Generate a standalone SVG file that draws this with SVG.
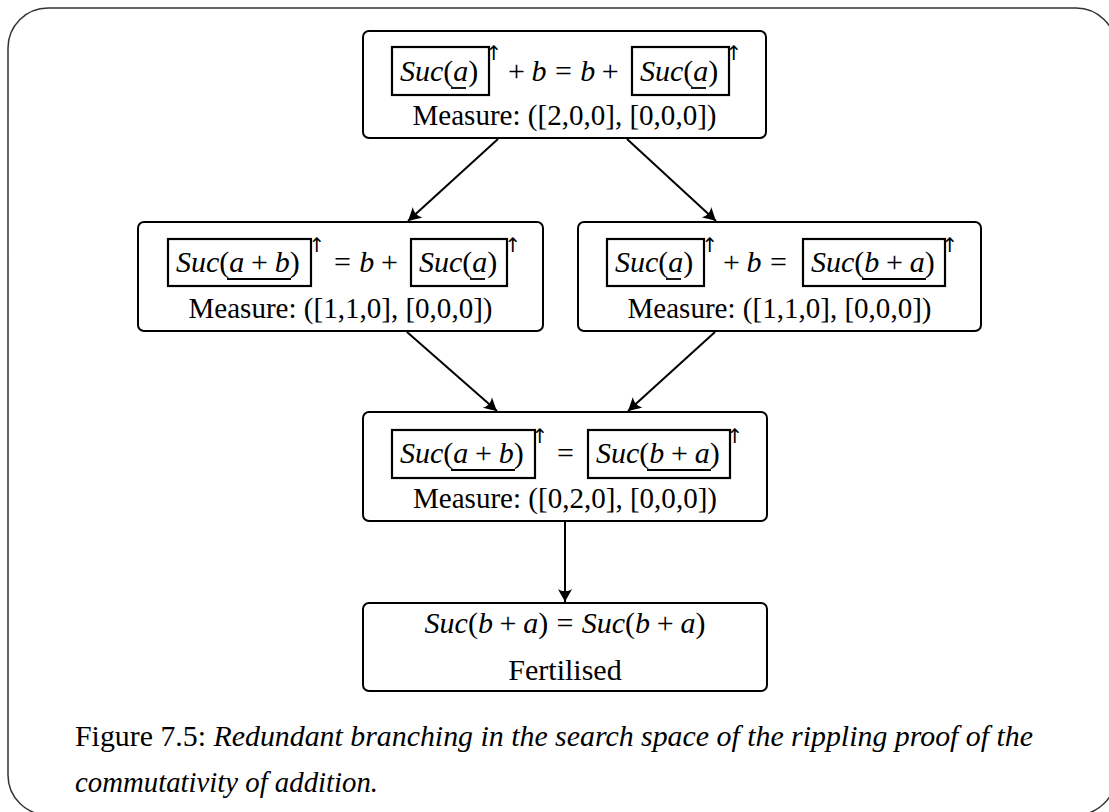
<svg xmlns="http://www.w3.org/2000/svg" width="1109" height="812" viewBox="0 0 1109 812">
  <style>
    .frame { fill: none; stroke: #333; stroke-width: 1.5; }
    .node rect.outer { fill: #fff; stroke: #000; stroke-width: 2; }
    .wave { fill: none; stroke: #000; stroke-width: 2.2; }
    .ul { stroke: #000; stroke-width: 1.8; }
    .m { font-family: "Liberation Serif", "Times New Roman", serif; font-size: 30px; fill: #000; }
    .t { font-family: "Liberation Serif", "Times New Roman", serif; font-size: 29px; fill: #000; }
    .up { font-family: "DejaVu Sans", sans-serif; font-size: 20px; fill: #000; text-anchor: middle; }
    .i { font-style: italic; }
    .edge { stroke: #000; stroke-width: 2; fill: none; marker-end: url(#tip); }
  </style>
  <defs>
    <marker id="tip" markerUnits="userSpaceOnUse" viewBox="-15 -8 16 16" refX="0" refY="0" markerWidth="16" markerHeight="16" orient="auto">
      <path d="M0,0 C-4,-2 -9,-5 -13,-7 C-10,-3 -10,3 -13,7 C-9,5 -4,2 0,0 Z" fill="#000"/>
    </marker>
  </defs>

  <rect class="frame" x="8" y="8" width="1108" height="807" rx="40" ry="40"/>

  <g id="connectors">
    <line class="edge" x1="498" y1="139" x2="408" y2="221"/>
    <line class="edge" x1="627" y1="139" x2="716" y2="221"/>
    <line class="edge" x1="407" y1="332" x2="497" y2="411"/>
    <line class="edge" x1="715" y1="332" x2="628" y2="411"/>
    <line class="edge" x1="565" y1="522" x2="565" y2="602"/>
  </g>

  <!-- start goal -->
  <g id="n-start" class="node">
    <rect class="outer" x="363" y="31" width="403" height="107" rx="6"/>
    <rect class="wave" x="392" y="47" width="97" height="48"/>
    <text class="m" x="400" y="81"><tspan class="i">Suc</tspan>(<tspan class="i">a</tspan>)</text>
    <line class="ul" x1="451" y1="88" x2="466" y2="88"/>
    <text class="up" x="494" y="60">↑</text>
    <text class="m" x="508" y="81">+<tspan class="i" dx="6.7">b</tspan><tspan dx="8.3">=</tspan><tspan class="i" dx="8.3">b</tspan><tspan dx="6.7">+</tspan></text>
    <rect class="wave" x="632" y="47" width="97" height="48"/>
    <text class="m" x="640" y="81"><tspan class="i">Suc</tspan>(<tspan class="i">a</tspan>)</text>
    <line class="ul" x1="691" y1="88" x2="706" y2="88"/>
    <text class="up" x="734" y="60">↑</text>
    <text class="m" x="564.5" y="125" text-anchor="middle" textLength="304" lengthAdjust="spacingAndGlyphs">Measure: ([2,0,0], [0,0,0])</text>
  </g>

  <!-- left branch -->
  <g id="n-left" class="node">
    <rect class="outer" x="138" y="222" width="405" height="109" rx="6"/>
    <rect class="wave" x="168" y="239" width="143" height="47"/>
    <text class="m" x="176" y="272"><tspan class="i">Suc</tspan>(<tspan class="i">a</tspan><tspan dx="6.7">+</tspan><tspan class="i" dx="6.7">b</tspan>)</text>
    <line class="ul" x1="227" y1="279" x2="291" y2="279"/>
    <text class="up" x="317" y="252">↑</text>
    <text class="m" x="334" y="272">=<tspan class="i" dx="8.3">b</tspan><tspan dx="6.7">+</tspan></text>
    <rect class="wave" x="411" y="239" width="96" height="47"/>
    <text class="m" x="419" y="272"><tspan class="i">Suc</tspan>(<tspan class="i">a</tspan>)</text>
    <line class="ul" x1="470" y1="279" x2="485" y2="279"/>
    <text class="up" x="513" y="252">↑</text>
    <text class="m" x="340.5" y="318" text-anchor="middle" textLength="304" lengthAdjust="spacingAndGlyphs">Measure: ([1,1,0], [0,0,0])</text>
  </g>

  <!-- right branch -->
  <g id="n-right" class="node">
    <rect class="outer" x="578" y="222" width="403" height="109" rx="6"/>
    <rect class="wave" x="607" y="239" width="97" height="47"/>
    <text class="m" x="615" y="272"><tspan class="i">Suc</tspan>(<tspan class="i">a</tspan>)</text>
    <line class="ul" x1="666" y1="279" x2="681" y2="279"/>
    <text class="up" x="710" y="252">↑</text>
    <text class="m" x="723" y="272">+<tspan class="i" dx="6.7">b</tspan><tspan dx="8.3">=</tspan></text>
    <rect class="wave" x="803" y="239" width="142" height="47"/>
    <text class="m" x="811" y="272"><tspan class="i">Suc</tspan>(<tspan class="i">b</tspan><tspan dx="6.7">+</tspan><tspan class="i" dx="6.7">a</tspan>)</text>
    <line class="ul" x1="862" y1="279" x2="926" y2="279"/>
    <text class="up" x="950" y="252">↑</text>
    <text class="m" x="779.5" y="318" text-anchor="middle" textLength="304" lengthAdjust="spacingAndGlyphs">Measure: ([1,1,0], [0,0,0])</text>
  </g>

  <!-- merged goal -->
  <g id="n-merge" class="node">
    <rect class="outer" x="363" y="412" width="404" height="109" rx="6"/>
    <rect class="wave" x="392" y="430" width="143" height="48"/>
    <text class="m" x="400" y="463"><tspan class="i">Suc</tspan>(<tspan class="i">a</tspan><tspan dx="6.7">+</tspan><tspan class="i" dx="6.7">b</tspan>)</text>
    <line class="ul" x1="451" y1="470" x2="515" y2="470"/>
    <text class="up" x="540" y="443">↑</text>
    <text class="m" x="557" y="463">=</text>
    <rect class="wave" x="588" y="430" width="142" height="48"/>
    <text class="m" x="596" y="463"><tspan class="i">Suc</tspan>(<tspan class="i">b</tspan><tspan dx="6.7">+</tspan><tspan class="i" dx="6.7">a</tspan>)</text>
    <line class="ul" x1="647" y1="470" x2="711" y2="470"/>
    <text class="up" x="735" y="443">↑</text>
    <text class="m" x="565" y="508" text-anchor="middle" textLength="304" lengthAdjust="spacingAndGlyphs">Measure: ([0,2,0], [0,0,0])</text>
  </g>

  <!-- closed goal -->
  <g id="n-done" class="node">
    <rect class="outer" x="363" y="603" width="404" height="88" rx="6"/>
    <text class="m" x="565" y="633" text-anchor="middle"><tspan class="i">Suc</tspan>(<tspan class="i">b</tspan><tspan dx="6.7">+</tspan><tspan class="i" dx="6.7">a</tspan>)<tspan dx="8.3">=</tspan><tspan class="i" dx="8.3">Suc</tspan>(<tspan class="i">b</tspan><tspan dx="6.7">+</tspan><tspan class="i" dx="6.7">a</tspan>)</text>
    <text class="m" x="565" y="680" text-anchor="middle">Fertilised</text>
  </g>

  <g id="caption">
    <text class="t" x="75" y="746" textLength="958" lengthAdjust="spacingAndGlyphs">Figure 7.5: <tspan class="i">Redundant branching in the search space of the rippling proof of the</tspan></text>
    <text class="t i" x="75" y="792" textLength="303" lengthAdjust="spacingAndGlyphs">commutativity of addition.</text>
  </g>
</svg>
